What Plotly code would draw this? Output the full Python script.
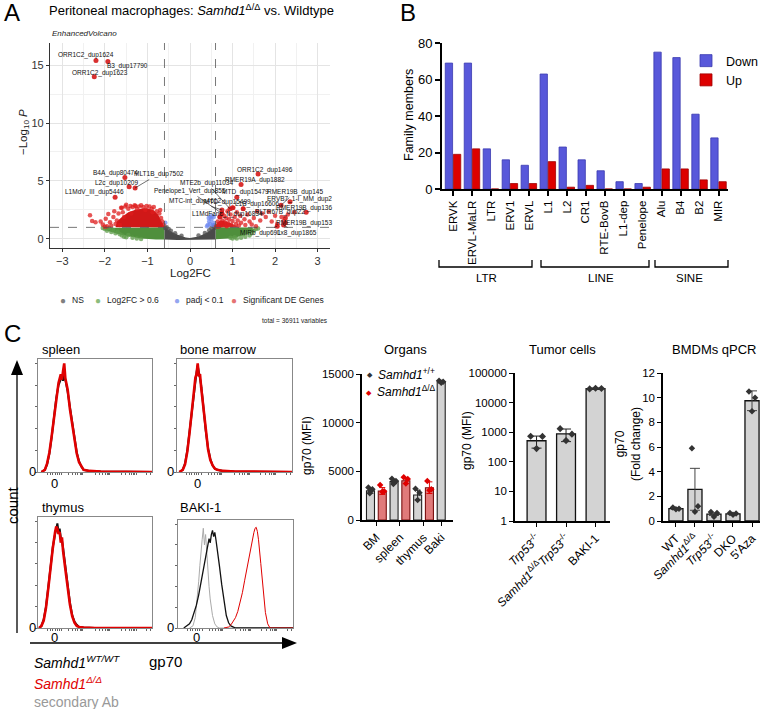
import plotly.graph_objects as go

W, H = 763, 709
FONT = "Liberation Sans, Arial, sans-serif"


def fx(p):
    return p / W


def fy(p):
    return 1 - p / H


# ================= Panel A : volcano data =================
ns_poly_x = [-0.6, -0.5, -0.4, -0.3, -0.2, -0.1, 0.0, 0.1, 0.2, 0.3, 0.4, 0.5, 0.6, 0.6, 0.3, 0.0, -0.3, -0.6]
ns_poly_y = [1.0, 0.75, 0.55, 0.38, 0.22, 0.12, 0.08, 0.12, 0.22, 0.38, 0.55, 0.82, 1.1, -0.05, -0.08, -0.1, -0.08, -0.05]
green_l_poly_x = [-0.6, -1.0, -1.4, -1.8, -1.97, -2.02, -1.9, -1.75, -1.6, -1.45, -1.3, -1.15, -1.0, -0.8, -0.6]
green_l_poly_y = [1.0, 1.0, 1.0, 1.0, 0.95, 0.8, 0.65, 0.5, 0.35, 0.22, 0.12, 0.05, 0.0, -0.05, -0.05]
green_r_poly_x = [0.6, 0.9, 1.2, 1.45, 1.52, 1.45, 1.35, 1.2, 1.05, 0.9, 0.75, 0.6]
green_r_poly_y = [1.0, 1.0, 1.0, 0.98, 0.8, 0.55, 0.4, 0.22, 0.1, 0.03, 0.0, -0.02]
red_l_poly_x = [-0.6, -1.0, -1.4, -1.75, -1.72, -1.6, -1.45, -1.3, -1.15, -1.0, -0.85, -0.75, -0.68, -0.62]
red_l_poly_y = [1.0, 1.0, 1.0, 1.0, 1.5, 1.9, 2.3, 2.5, 2.6, 2.65, 2.45, 2.1, 1.6, 1.2]
red_r_poly_x = [0.6, 1.15, 1.0, 0.85, 0.7, 0.62]
red_r_poly_y = [1.0, 1.0, 1.3, 1.5, 1.6, 1.3]

ns_x = [-0.58, -0.55, -0.5, -0.45, 0.45, 0.5, 0.55, 0.58, -0.35, 0.35, -0.2, 0.2]
ns_y = [0.95, 1.0, 0.85, 0.7, 0.75, 0.95, 1.1, 1.2, 0.5, 0.52, 0.28, 0.3]
blue_x = [-0.58, 0.4, 0.42, 0.45, 0.47, 0.48, 0.5, 0.52, 0.53, 0.55, 0.56, 0.44]
blue_y = [1.4, 1.1, 1.2, 1.5, 1.3, 1.9, 1.7, 2.0, 1.2, 1.4, 1.9, 1.8]
green_x = [-2.05, -2.0, -1.95, -1.9, -1.85, -1.8, -1.75, -1.7, -1.65, -1.6,
           -1.55, -1.5, -1.45, -1.35, -1.25, -1.15, 1.05, 1.1, 1.2, 1.25,
           1.3, 1.35, 1.4, 1.45, 1.5, 1.55, 1.6, 1.0, 0.95]
green_y = [0.95, 0.85, 0.7, 0.95, 0.6, 0.8, 0.5, 0.65, 0.4, 0.3,
           0.2, 0.15, 0.35, 0.1, 0.05, 0.0, 0.15, 0.05, 0.1, 0.4,
           0.2, 0.6, 0.3, 0.5, 0.7, 0.85, 0.9, 0.05, 0.1]
red_l_x = [-2.35, -2.3, -2.22, -2.1, -2.05, -1.98, -1.92, -1.88, -1.8, -1.78,
           -1.72, -1.68, -1.62, -1.58, -1.52, -1.45, -1.4, -1.35, -1.28, -1.2,
           -1.15, -1.1, -1.02, -0.95, -0.9, -0.85, -0.78, -0.72, -0.68, -0.65,
           -0.62, -1.65, -1.75, -1.85, -1.95, -2.0, -1.5, -1.3, -1.6, -1.25,
           -1.05, -0.88, -1.38, -1.55, -0.7]
red_l_y = [2.05, 1.55, 1.45, 1.5, 1.25, 1.75, 2.15, 1.45, 1.9, 2.4,
           1.6, 2.2, 2.7, 2.3, 2.8, 2.6, 2.85, 2.75, 2.85, 2.8,
           2.9, 2.75, 2.85, 2.8, 2.6, 2.75, 2.4, 2.2, 1.8, 1.5,
           1.2, 1.2, 1.3, 1.15, 1.1, 1.05, 2.95, 2.9, 2.7, 2.6,
           2.5, 2.3, 2.2, 1.9, 2.5]
red_r_x = [0.62, 0.65, 0.68, 0.7, 0.72, 0.75, 0.76, 0.78, 0.8, 0.82,
           0.85, 0.86, 0.88, 0.9, 0.92, 0.95, 0.97, 1.0, 1.02, 1.05,
           1.08, 1.1, 1.12, 1.15, 1.18, 1.2, 1.25, 1.28, 1.3, 1.35,
           1.4, 1.45, 1.5, 1.58, 1.65, 1.7, 1.78, 1.85, 1.92, 2.0,
           2.05, 2.15, 2.3, 2.45, 2.2, 1.55, 0.66, 0.74]
red_r_y = [1.1, 1.5, 1.3, 1.9, 1.15, 2.2, 1.6, 1.25, 2.0, 1.45,
           1.8, 1.1, 2.4, 1.35, 1.7, 2.1, 1.2, 1.55, 2.7, 1.9,
           1.3, 2.3, 1.6, 1.15, 2.0, 1.4, 2.6, 1.7, 1.2, 2.1,
           1.5, 1.25, 1.8, 2.4, 1.6, 2.2, 1.9, 2.35, 1.5, 2.0,
           1.3, 1.9, 2.1, 2.3, 1.55, 1.1, 1.05, 1.4]

lab_names = ["ORR1C2_dup1624", "B3_dup17790", "ORR1C2_dup1623", "B4A_dup80474", "MLT1B_dup7502",
             "L2c_dup10209", "L1MdV_III_dup5446", "ORR1C2_dup1496", "RMER19A_dup1882", "MTE2b_dup11034",
             "Penelope1_Vert_dup855", "MTD_dup15479", "MTC-int_dup4612", "MTD_dup15499", "L1B_dup16606",
             "RMER19B_dup145", "ERVB7_1-I_MM_dup2", "RMER19B_dup136", "L1MdFanc_II_dup16834",
             "RLTR67B_dup22", "RMER19B_dup153", "Lx8_dup1865", "MIRb_dup691"]
lab_fc = [-2.21, -1.93, -2.25, -1.53, -1.29, -1.43, -1.76, 1.6, 1.2, 0.94, 0.75, 1.1, 0.75, 1.0, 1.25,
          2.14, 2.35, 2.73, 0.7, 2.24, 2.24, 2.2, 2.05]
lab_p = [15.4, 15.3, 14.0, 5.3, 4.4, 4.5, 3.6, 5.6, 4.7, 2.6, 2.2, 3.6, 2.5, 2.7, 2.6,
         2.9, 3.2, 2.3, 1.9, 1.8, 1.4, 1.2, 1.1]
# label text placement (layout)
lab_tx = [-2.44, -1.47, -2.11, -1.76, -0.74, -1.72, -2.24, 1.76, 1.52, 0.39, -0.01, 1.31, 0.12, 0.89, 1.58,
          2.47, 2.58, 2.68, 0.88, 2.11, 2.68, 2.51, 1.65]
lab_ty = [15.86, 14.9, 14.3, 5.69, 5.6, 4.83, 4.05, 5.95, 5.09, 4.83, 4.14, 4.05, 3.28, 3.19, 3.0,
          4.05, 3.45, 2.67, 2.16, 2.33, 1.38, 0.52, 0.52]
fc_cut = 0.6
p_cut = 1.0

# ================= Panel B data =================
families = ["ERVK", "ERVL-MaLR", "LTR", "ERV1", "ERVL", "L1", "L2", "CR1", "RTE-BovB", "L1-dep",
            "Penelope", "Alu", "B4", "B2", "MIR"]
down_vals = [69, 69, 22, 16, 13, 63, 23, 16, 10, 4, 3, 75, 72, 41, 28]
up_vals = [19, 22, 0, 3, 3, 15, 1, 2, 0, 0, 1, 11, 11, 5, 4]
groups = ["LTR", "LINE", "SINE"]

# ================= Panel C histograms =================
sp_x = [3, 6, 8, 10, 12, 14, 16, 18, 20, 21, 22, 23, 24, 25, 26, 28, 30, 32, 34, 36, 38, 40, 45, 55, 100]
sp_wt = [0, 0.02, 0.07, 0.17, 0.32, 0.5, 0.68, 0.8, 0.86, 0.88, 0.84, 0.9, 0.85, 0.8, 0.74, 0.6, 0.45,
         0.3, 0.18, 0.1, 0.05, 0.02, 0.01, 0.005, 0]
sp_ko = [0, 0.02, 0.08, 0.18, 0.33, 0.5, 0.66, 0.82, 0.9, 0.85, 0.93, 1.0, 0.86, 0.82, 0.76, 0.58, 0.43,
         0.29, 0.17, 0.09, 0.05, 0.02, 0.01, 0.005, 0]
bm_x = [2, 5, 7, 9, 11, 13, 14, 15, 16, 17, 18, 19, 20, 21, 22, 23, 25, 27, 29, 31, 33, 35, 40, 50, 100]
bm_wt = [0, 0.02, 0.08, 0.2, 0.38, 0.58, 0.68, 0.78, 0.85, 0.92, 0.98, 0.93, 0.86, 0.8, 0.7, 0.58, 0.38,
         0.22, 0.12, 0.06, 0.03, 0.02, 0.01, 0.005, 0]
bm_ko = [0, 0.02, 0.07, 0.19, 0.37, 0.57, 0.7, 0.8, 0.87, 0.9, 1.0, 0.88, 0.9, 0.78, 0.68, 0.56, 0.37,
         0.21, 0.11, 0.06, 0.03, 0.02, 0.01, 0.005, 0]
th_x = [1, 3, 5, 7, 9, 11, 13, 15, 16, 17, 18, 19, 20, 21, 22, 24, 26, 28, 30, 32, 34, 36, 40, 50, 100]
th_wt = [0, 0.02, 0.08, 0.2, 0.38, 0.58, 0.76, 0.88, 0.92, 0.98, 0.9, 0.93, 0.85, 0.82, 0.75, 0.58, 0.4,
         0.24, 0.12, 0.06, 0.03, 0.01, 0.005, 0, 0]
th_ko = [0, 0.02, 0.07, 0.19, 0.37, 0.57, 0.75, 0.9, 0.95, 0.93, 0.88, 0.9, 0.8, 0.85, 0.72, 0.55, 0.38,
         0.22, 0.11, 0.05, 0.02, 0.01, 0.005, 0, 0]
bk_sec_x = [10, 13, 15, 17, 18, 19, 20, 21, 22, 23, 24, 25, 26, 27, 28, 30, 32, 34, 36, 40, 100]
bk_sec_y = [0, 0.02, 0.1, 0.3, 0.45, 0.6, 0.78, 0.85, 0.96, 0.8, 0.9, 0.7, 0.55, 0.4, 0.28, 0.12, 0.04,
            0.01, 0, 0, 0]
bk_wt_x = [5, 8, 10, 12, 14, 16, 18, 20, 22, 24, 26, 27, 28, 29, 30, 31, 32, 33, 34, 36, 38, 40, 42, 44,
           46, 50, 100]
bk_wt_y = [0, 0.02, 0.04, 0.08, 0.14, 0.22, 0.32, 0.45, 0.58, 0.7, 0.8, 0.86, 0.82, 0.9, 0.94, 0.88, 0.92,
           0.85, 0.78, 0.6, 0.42, 0.25, 0.12, 0.05, 0.02, 0, 0]
bk_ko_x = [40, 44, 46, 48, 50, 52, 54, 56, 58, 60, 62, 64, 65, 66, 67, 68, 69, 70, 72, 74, 76, 78, 80, 100]
bk_ko_y = [0, 0.01, 0.03, 0.06, 0.1, 0.16, 0.24, 0.34, 0.46, 0.58, 0.7, 0.82, 0.88, 0.92, 0.96, 0.97,
           0.93, 0.85, 0.62, 0.35, 0.15, 0.04, 0, 0]

# ================= Panel C bar charts =================
org_groups = ["BM", "spleen", "thymus", "Baki"]
org_geno = ["wt", "ko", "wt", "ko", "wt", "ko", "wt"]
org_means = [3000, 2980, 3940, 4040, 2570, 3320, 14200]
org_sd = [250, 350, 200, 300, 500, 600, 100]
org_pts = [[3350, 3150, 2950, 2750], [3600, 2950, 2900], [4250, 4000, 3850, 3700], [4400, 4200, 3750],
           [3200, 2800, 2050], [4000, 3150, 3050], [14300, 14200, 14100]]

tum_labels = ["<i>Trp53</i><sup>-/-</sup>", "<i>Samhd1</i><sup>Δ/Δ</sup><i>Trp53</i><sup>-/-</sup>", "BAKI-1"]
tum_means = [515, 880, 29500]
tum_sd = [225, 400, 1500]
tum_pts = [[730, 720, 280], [1320, 860, 520], [29000, 30000, 30500]]

bmdm_labels = ["WT", "<i>Samhd1</i><sup>Δ/Δ</sup>", "<i>Trp53</i><sup>-/-</sup>", "DKO", "5'Aza"]
bmdm_means = [1.0, 2.57, 0.55, 0.57, 9.75]
bmdm_err = [0.06, 1.7, 0.1, 0.05, 0.8]
bmdm_pts = [[1.1, 1.0, 0.95], [5.9, 1.2, 0.75], [0.72, 0.65, 0.35], [0.65, 0.6, 0.5], [10.5, 10.0, 8.9]]

# ================= build figure =================
fig = go.Figure()


def poly(xs, ys, color, xa="x", ya="y"):
    fig.add_trace(go.Scatter(x=xs, y=ys, fill="toself", fillcolor=color, mode="lines",
                             line=dict(width=0), hoverinfo="skip", showlegend=False,
                             xaxis=xa, yaxis=ya))


def pts(xs, ys, color, size=4.5, op=0.75, xa="x", ya="y"):
    fig.add_trace(go.Scatter(x=xs, y=ys, mode="markers", showlegend=False, hoverinfo="skip",
                             marker=dict(size=size, color=color, opacity=op, line=dict(width=0)),
                             xaxis=xa, yaxis=ya))


# volcano
poly(green_l_poly_x, green_l_poly_y, "#4F8F3C")
poly(green_r_poly_x, green_r_poly_y, "#4F8F3C")
poly(ns_poly_x, ns_poly_y, "#4A4A4A")
poly(red_l_poly_x, red_l_poly_y, "#D01818")
poly(red_r_poly_x, red_r_poly_y, "#D83030")
pts(green_x, green_y, "#5E9C4A")
pts(ns_x, ns_y, "#505050")
pts(blue_x, blue_y, "#6F8AF0")
pts(red_l_x, red_l_y, "#DD1C1C")
pts(red_r_x, red_r_y, "#DD1C1C")
pts(lab_fc, lab_p, "#D51A1A", size=5, op=0.9)

annotations = []
shapes = []

for name, x0, y0, tx, ty in zip(lab_names, lab_fc, lab_p, lab_tx, lab_ty):
    annotations.append(dict(x=x0, y=y0, xref="x", yref="y", ax=tx, ay=ty, axref="x", ayref="y",
                            text=name, showarrow=True, arrowhead=0, arrowwidth=0.6, arrowcolor="#111",
                            standoff=0, startstandoff=0,
                            font=dict(size=6.5, family=FONT, color="#111")))

shapes.append(dict(type="line", xref="x", yref="y domain", x0=-fc_cut, x1=-fc_cut, y0=0, y1=1,
                   line=dict(color="#555", width=0.8, dash="dash")))
shapes.append(dict(type="line", xref="x", yref="y domain", x0=fc_cut, x1=fc_cut, y0=0, y1=1,
                   line=dict(color="#555", width=0.8, dash="dash")))
shapes.append(dict(type="line", xref="x domain", yref="y", x0=0, x1=1, y0=p_cut, y1=p_cut,
                   line=dict(color="#555", width=0.8, dash="dash")))

# ---- Panel B bars
fig.add_trace(go.Bar(x=families, y=down_vals, name="Down", xaxis="x2", yaxis="y2",
                     marker=dict(color="#5858DA", line=dict(color="#3A3AB0", width=0.8)), legend="legend"))
fig.add_trace(go.Bar(x=families, y=up_vals, name="Up", xaxis="x2", yaxis="y2",
                     marker=dict(color="#DD0000", line=dict(color="#A00000", width=0.8)), legend="legend"))


# ---- Histograms
def hline(xs, ys, color, width, xa, ya):
    fig.add_trace(go.Scatter(x=xs, y=ys, mode="lines", line=dict(color=color, width=width, shape="linear"),
                             showlegend=False, hoverinfo="skip", xaxis=xa, yaxis=ya))


hline(sp_x, sp_wt, "#111", 2, "x3", "y3")
hline(sp_x, sp_ko, "#E00000", 2.6, "x3", "y3")
hline(bm_x, bm_wt, "#111", 2, "x4", "y4")
hline(bm_x, bm_ko, "#E00000", 2.6, "x4", "y4")
hline(th_x, th_wt, "#111", 2, "x5", "y5")
hline(th_x, th_ko, "#E00000", 2.6, "x5", "y5")
hline(bk_sec_x, bk_sec_y, "#AAAAAA", 1, "x6", "y6")
hline(bk_wt_x, bk_wt_y, "#111", 1.3, "x6", "y6")
hline(bk_ko_x, bk_ko_y, "#E00000", 1, "x6", "y6")

# ---- Organs
org_idx = list(range(len(org_means)))
org_fill = ["#D3D3D3" if g == "wt" else "#E07A7A" for g in org_geno]
org_line = ["#222" if g == "wt" else "#7A1010" for g in org_geno]
fig.add_trace(go.Bar(x=org_idx, y=org_means, width=0.68,
                     marker=dict(color=org_fill, line=dict(color=org_line, width=1.1)),
                     showlegend=False, xaxis="x7", yaxis="y7", offset=-0.34))
jit = [-0.18, 0.16, 0.0, -0.06]
for geno, ecol, pcol in (("wt", "#222", "#333"), ("ko", "#E00000", "#E00000")):
    ii = [i for i in org_idx if org_geno[i] == geno]
    fig.add_trace(go.Scatter(x=ii, y=[org_means[i] for i in ii], mode="markers",
                             marker=dict(size=0.1, opacity=0),
                             error_y=dict(type="data", array=[org_sd[i] for i in ii], color=ecol,
                                          thickness=1, width=3),
                             showlegend=False, hoverinfo="skip", xaxis="x7", yaxis="y7"))
    px_, py_ = [], []
    for i in ii:
        for k, v in enumerate(org_pts[i]):
            px_.append(i + jit[k % len(jit)])
            py_.append(v)
    fig.add_trace(go.Scatter(x=px_, y=py_, mode="markers", marker=dict(symbol="diamond", size=5, color=pcol),
                             showlegend=False, hoverinfo="skip", xaxis="x7", yaxis="y7"))

# ---- Tumor cells
tum_idx = list(range(len(tum_means)))
fig.add_trace(go.Bar(x=tum_idx, y=tum_means, width=0.64, offset=-0.32,
                     marker=dict(color="#D3D3D3", line=dict(color="#111", width=1.3)),
                     showlegend=False, xaxis="x8", yaxis="y8"))
fig.add_trace(go.Scatter(x=tum_idx, y=tum_means, mode="markers", marker=dict(size=0.1, opacity=0),
                         error_y=dict(type="data", array=tum_sd, color="#222", thickness=1, width=5),
                         showlegend=False, hoverinfo="skip", xaxis="x8", yaxis="y8"))
jit3 = [-0.2, 0.2, 0.0]
tx_, ty_ = [], []
for i, vals in enumerate(tum_pts):
    for k, v in enumerate(vals):
        tx_.append(i + jit3[k])
        ty_.append(v)
fig.add_trace(go.Scatter(x=tx_, y=ty_, mode="markers", marker=dict(symbol="diamond", size=5.5, color="#333"),
                         showlegend=False, hoverinfo="skip", xaxis="x8", yaxis="y8"))

# ---- BMDMs
bm_idx = list(range(len(bmdm_means)))
fig.add_trace(go.Bar(x=bm_idx, y=bmdm_means, width=0.74, offset=-0.37,
                     marker=dict(color="#D3D3D3", line=dict(color="#111", width=1.3)),
                     showlegend=False, xaxis="x9", yaxis="y9"))
fig.add_trace(go.Scatter(x=bm_idx, y=bmdm_means, mode="markers", marker=dict(size=0.1, opacity=0),
                         error_y=dict(type="data", array=bmdm_err, color="#444", thickness=1, width=5),
                         showlegend=False, hoverinfo="skip", xaxis="x9", yaxis="y9"))
bx_, by_ = [], []
for i, vals in enumerate(bmdm_pts):
    for k, v in enumerate(vals):
        bx_.append(i + jit3[k] * 0.8)
        by_.append(v)
fig.add_trace(go.Scatter(x=bx_, y=by_, mode="markers", marker=dict(symbol="diamond", size=5, color="#333"),
                         showlegend=False, hoverinfo="skip", xaxis="x9", yaxis="y9"))

# ================= axes =================
TF = dict(family=FONT, color="black")


def ax(domain, anchor, **kw):
    d = dict(domain=domain, anchor=anchor, showgrid=False, zeroline=False, showline=True,
             linecolor="black", linewidth=1.2, ticks="outside", tickcolor="black", ticklen=4,
             automargin=False, tickfont=dict(size=11, **TF))
    d.update(kw)
    return d


layout = dict(template="none", width=W, height=H, autosize=False,
              margin=dict(l=0, r=0, t=0, b=0, pad=0, autoexpand=False),
              paper_bgcolor="white", plot_bgcolor="white", font=dict(family=FONT, color="black"),
              barmode="group", bargap=0.14, bargroupgap=0.1, showlegend=True)

grid_minor = dict(showgrid=True, gridcolor="#F1F1F1", gridwidth=0.6)
layout["xaxis"] = ax([fx(50), fx(330)], "y", range=[-3.29, 3.29], tickvals=[-3, -2, -1, 0, 1, 2, 3],
                     ticktext=["−3", "−2", "−1", "0", "1", "2", "3"],
                     showgrid=True, gridcolor="#E4E4E4", gridwidth=0.8, minor=dict(dtick=0.5, **grid_minor),
                     linecolor="#333", linewidth=1.3, ticklen=3, tickcolor="#333",
                     tickfont=dict(size=11, color="#333", family=FONT))
layout["yaxis"] = ax([fy(248), fy(43)], "x", range=[-0.78, 16.9], tickvals=[0, 5, 10, 15],
                     showgrid=True, gridcolor="#E4E4E4", gridwidth=0.8, minor=dict(dtick=2.5, **grid_minor),
                     linecolor="#333", linewidth=1.3, ticklen=3, tickcolor="#333",
                     tickfont=dict(size=11, color="#333", family=FONT))

layout["xaxis2"] = ax([fx(442), fx(728)], "y2", type="category", range=[-0.58, 14.5], tickangle=-90,
                      linewidth=2, tickwidth=1.5, ticklen=5, tickfont=dict(size=11.5, **TF))
layout["yaxis2"] = ax([fy(189), fy(43)], "x2", range=[0, 80], tickvals=[0, 20, 40, 60, 80],
                      linewidth=2, tickwidth=1.5, ticklen=5, tickfont=dict(size=13, **TF))

hist_dom = {3: ([38, 152], [359, 472]), 4: ([177, 292], [359, 472]),
            5: ([38, 152], [517, 628]), 6: ([178, 293], [520, 628])}
hist_xticks = [8, 11, 13, 15, 17, 19, 21, 27, 30, 33, 35, 37, 38, 39, 50, 54, 57, 59, 61, 62, 63,
               73, 77, 80, 82, 84, 85, 86, 95, 99]
for n, (xd, yd) in hist_dom.items():
    layout[f"xaxis{n}"] = ax([fx(xd[0]), fx(xd[1])], f"y{n}", range=[0, 100], mirror=True,
                             linecolor="#888", linewidth=1, tickvals=hist_xticks, showticklabels=False,
                             ticklen=2, tickcolor="#666", tickwidth=0.6)
    layout[f"yaxis{n}"] = ax([fy(yd[1]), fy(yd[0])], f"x{n}", range=[0, 1.04], mirror=True,
                             linecolor="#888", linewidth=1, tickvals=[0, 0.2, 0.4, 0.6, 0.8, 1.0],
                             showticklabels=False, ticklen=2.5, tickcolor="#666", tickwidth=0.6)

layout["xaxis7"] = ax([fx(362), fx(453)], "y7", range=[-0.72, 7.0], tickvals=[0.5, 2.5, 4.5, 6],
                      ticktext=org_groups, tickangle=-45, linewidth=1.5, tickwidth=1.2, ticklen=4,
                      tickfont=dict(size=12, **TF))
layout["yaxis7"] = ax([fy(520), fy(374)], "x7", range=[0, 15000], tickvals=[0, 5000, 10000, 15000],
                      ticktext=["0", "5000", "10000", "15000"],
                      linewidth=1.5, tickwidth=1.2, tickfont=dict(size=11.5, **TF))

layout["xaxis8"] = ax([fx(515), fx(610)], "y8", range=[-0.73, 2.49], tickvals=tum_idx,
                      ticktext=tum_labels, tickangle=-45, linewidth=1.5, tickwidth=1.2,
                      tickfont=dict(size=12, **TF))
layout["yaxis8"] = ax([fy(521), fy(373)], "x8", type="log", range=[0, 5],
                      tickvals=[1, 10, 100, 1000, 10000, 100000],
                      ticktext=["1", "10", "100", "1000", "10000", "100000"],
                      linewidth=1.5, tickwidth=1.2, tickfont=dict(size=11.5, **TF))

layout["xaxis9"] = ax([fx(663), fx(760)], "y9", range=[-0.68, 4.42], tickvals=bm_idx,
                      ticktext=bmdm_labels, tickangle=-45, linewidth=1.5, tickwidth=1.2,
                      tickfont=dict(size=12, **TF))
layout["yaxis9"] = ax([fy(521), fy(373)], "x9", range=[0, 12], tickvals=[0, 2, 4, 6, 8, 10, 12],
                      linewidth=1.5, tickwidth=1.2, tickfont=dict(size=11.5, **TF))

layout["legend"] = dict(x=fx(686), y=fy(46), xanchor="left", yanchor="top", bgcolor="rgba(0,0,0,0)",
                        borderwidth=0, font=dict(size=12.5, **TF), itemwidth=30, tracegroupgap=6)


# ================= annotations (text) =================
def txt(x, y, s, size=12, color="black", xanchor="left", yanchor="middle", angle=0, **kw):
    annotations.append(dict(x=fx(x), y=fy(y), xref="paper", yref="paper", text=s, showarrow=False,
                            xanchor=xanchor, yanchor=yanchor, textangle=angle,
                            font=dict(size=size, color=color, family=FONT), **kw))


# panel letters
txt(2, 13, "A", size=24)
txt(398, 13, "B", size=24)
txt(2, 334, "C", size=24)

# Panel A text
txt(191, 10, "Peritoneal macrophages: <i>Samhd1</i><sup>Δ/Δ</sup> vs. Wildtype", size=13, xanchor="center")
txt(50, 33, "<i>EnhancedVolcano</i>", size=8, color="#222")
txt(190, 273, "Log2FC", size=11.5, xanchor="center", color="#222")
txt(24, 132, "−Log<sub>10</sub> <i>P</i>", size=11.5, xanchor="center", angle=-90, color="#222")
leg_items = [("NS", "#808080", 63), ("Log2FC > 0.6", "#8CBC7C", 98), ("padj < 0.1", "#94A6F0", 177),
             ("Significant DE Genes", "#E57373", 234)]
for label, col, xx in leg_items:
    txt(xx, 300, "●", size=10, color=col, xanchor="center")
    txt(xx + 7, 300, label, size=8.5, color="#222")
txt(330, 320, "total = 36911 variables", size=6.5, xanchor="right", color="#222")

# Panel B text
txt(409, 115, "Family members", size=12.5, xanchor="center", angle=-90)
bracket = [(439, 532, 486, "LTR"), (541, 649, 601, "LINE"), (655, 728, 689, "SINE")]
for x0, x1, xc, lab in bracket:
    shapes.append(dict(type="path", xref="paper", yref="paper",
                       path=f"M {fx(x0)},{fy(260)} L {fx(x0)},{fy(267)} L {fx(x1)},{fy(267)} L {fx(x1)},{fy(260)}",
                       line=dict(color="black", width=1.3)))
    txt(xc, 278, lab, size=11.5, xanchor="center")

# Panel C histogram text
txt(40, 349, "spleen", size=13)
txt(178, 349, "bone marrow", size=13)
txt(40, 507, "thymus", size=13)
txt(178, 507, "BAKI-1", size=13)
for xx, yy in ((32, 471), (170, 471), (32, 627), (170, 627)):
    txt(xx, yy, "0", size=13, xanchor="center")
for xx, yy in ((55, 483), (197, 483), (54, 637), (196, 637)):
    txt(xx, yy, "0", size=13, xanchor="center")
txt(12, 505, "count", size=15, xanchor="center", angle=-90)
txt(165, 661, "gp70", size=15, xanchor="center")
txt(32, 662, "<i>Samhd1</i><sup><i>WT/WT</i></sup>", size=14)
txt(32, 683, "<i>Samhd1</i><sup><i>Δ/Δ</i></sup>", size=14, color="#E00000")
txt(32, 702, "secondary Ab", size=14, color="#999999")

# arrows (axis decorations)
shapes.append(dict(type="line", xref="paper", yref="paper", x0=fx(17), x1=fx(17), y0=fy(633), y1=fy(372),
                   line=dict(color="black", width=1.3)))
shapes.append(dict(type="path", xref="paper", yref="paper", fillcolor="black", line=dict(width=0),
                   path=f"M {fx(11)},{fy(375)} L {fx(17)},{fy(360)} L {fx(23)},{fy(375)} Z"))
shapes.append(dict(type="line", xref="paper", yref="paper", x0=fx(30), x1=fx(285), y0=fy(643), y1=fy(643),
                   line=dict(color="black", width=1.3)))
shapes.append(dict(type="path", xref="paper", yref="paper", fillcolor="black", line=dict(width=0),
                   path=f"M {fx(282)},{fy(637)} L {fx(297)},{fy(643)} L {fx(282)},{fy(649)} Z"))

# Panel C bar text
txt(405, 349, "Organs", size=13, xanchor="center")
txt(562, 349, "Tumor cells", size=13, xanchor="center")
txt(714, 349, "BMDMs qPCR", size=13, xanchor="center")
txt(307, 446, "gp70 (MFI)", size=12, xanchor="center", angle=-90)
txt(467, 441, "gp70 (MFI)", size=12, xanchor="center", angle=-90)
txt(628, 444, "gp70<br>(Fold change)", size=12, xanchor="center", angle=-90)
txt(370, 375, "◆", size=7, color="#333", xanchor="center")
txt(376, 374, "<i>Samhd1</i><sup>+/+</sup>", size=12)
txt(369, 392, "◆", size=7, color="#E00000", xanchor="center")
txt(375, 391, "<i>Samhd1</i><sup>Δ/Δ</sup>", size=12)

layout["annotations"] = annotations
layout["shapes"] = shapes
fig.update_layout(**layout)

fig.write_html("out.html", post_script="document.body.style.margin='0px';",
               config={"displayModeBar": False})
